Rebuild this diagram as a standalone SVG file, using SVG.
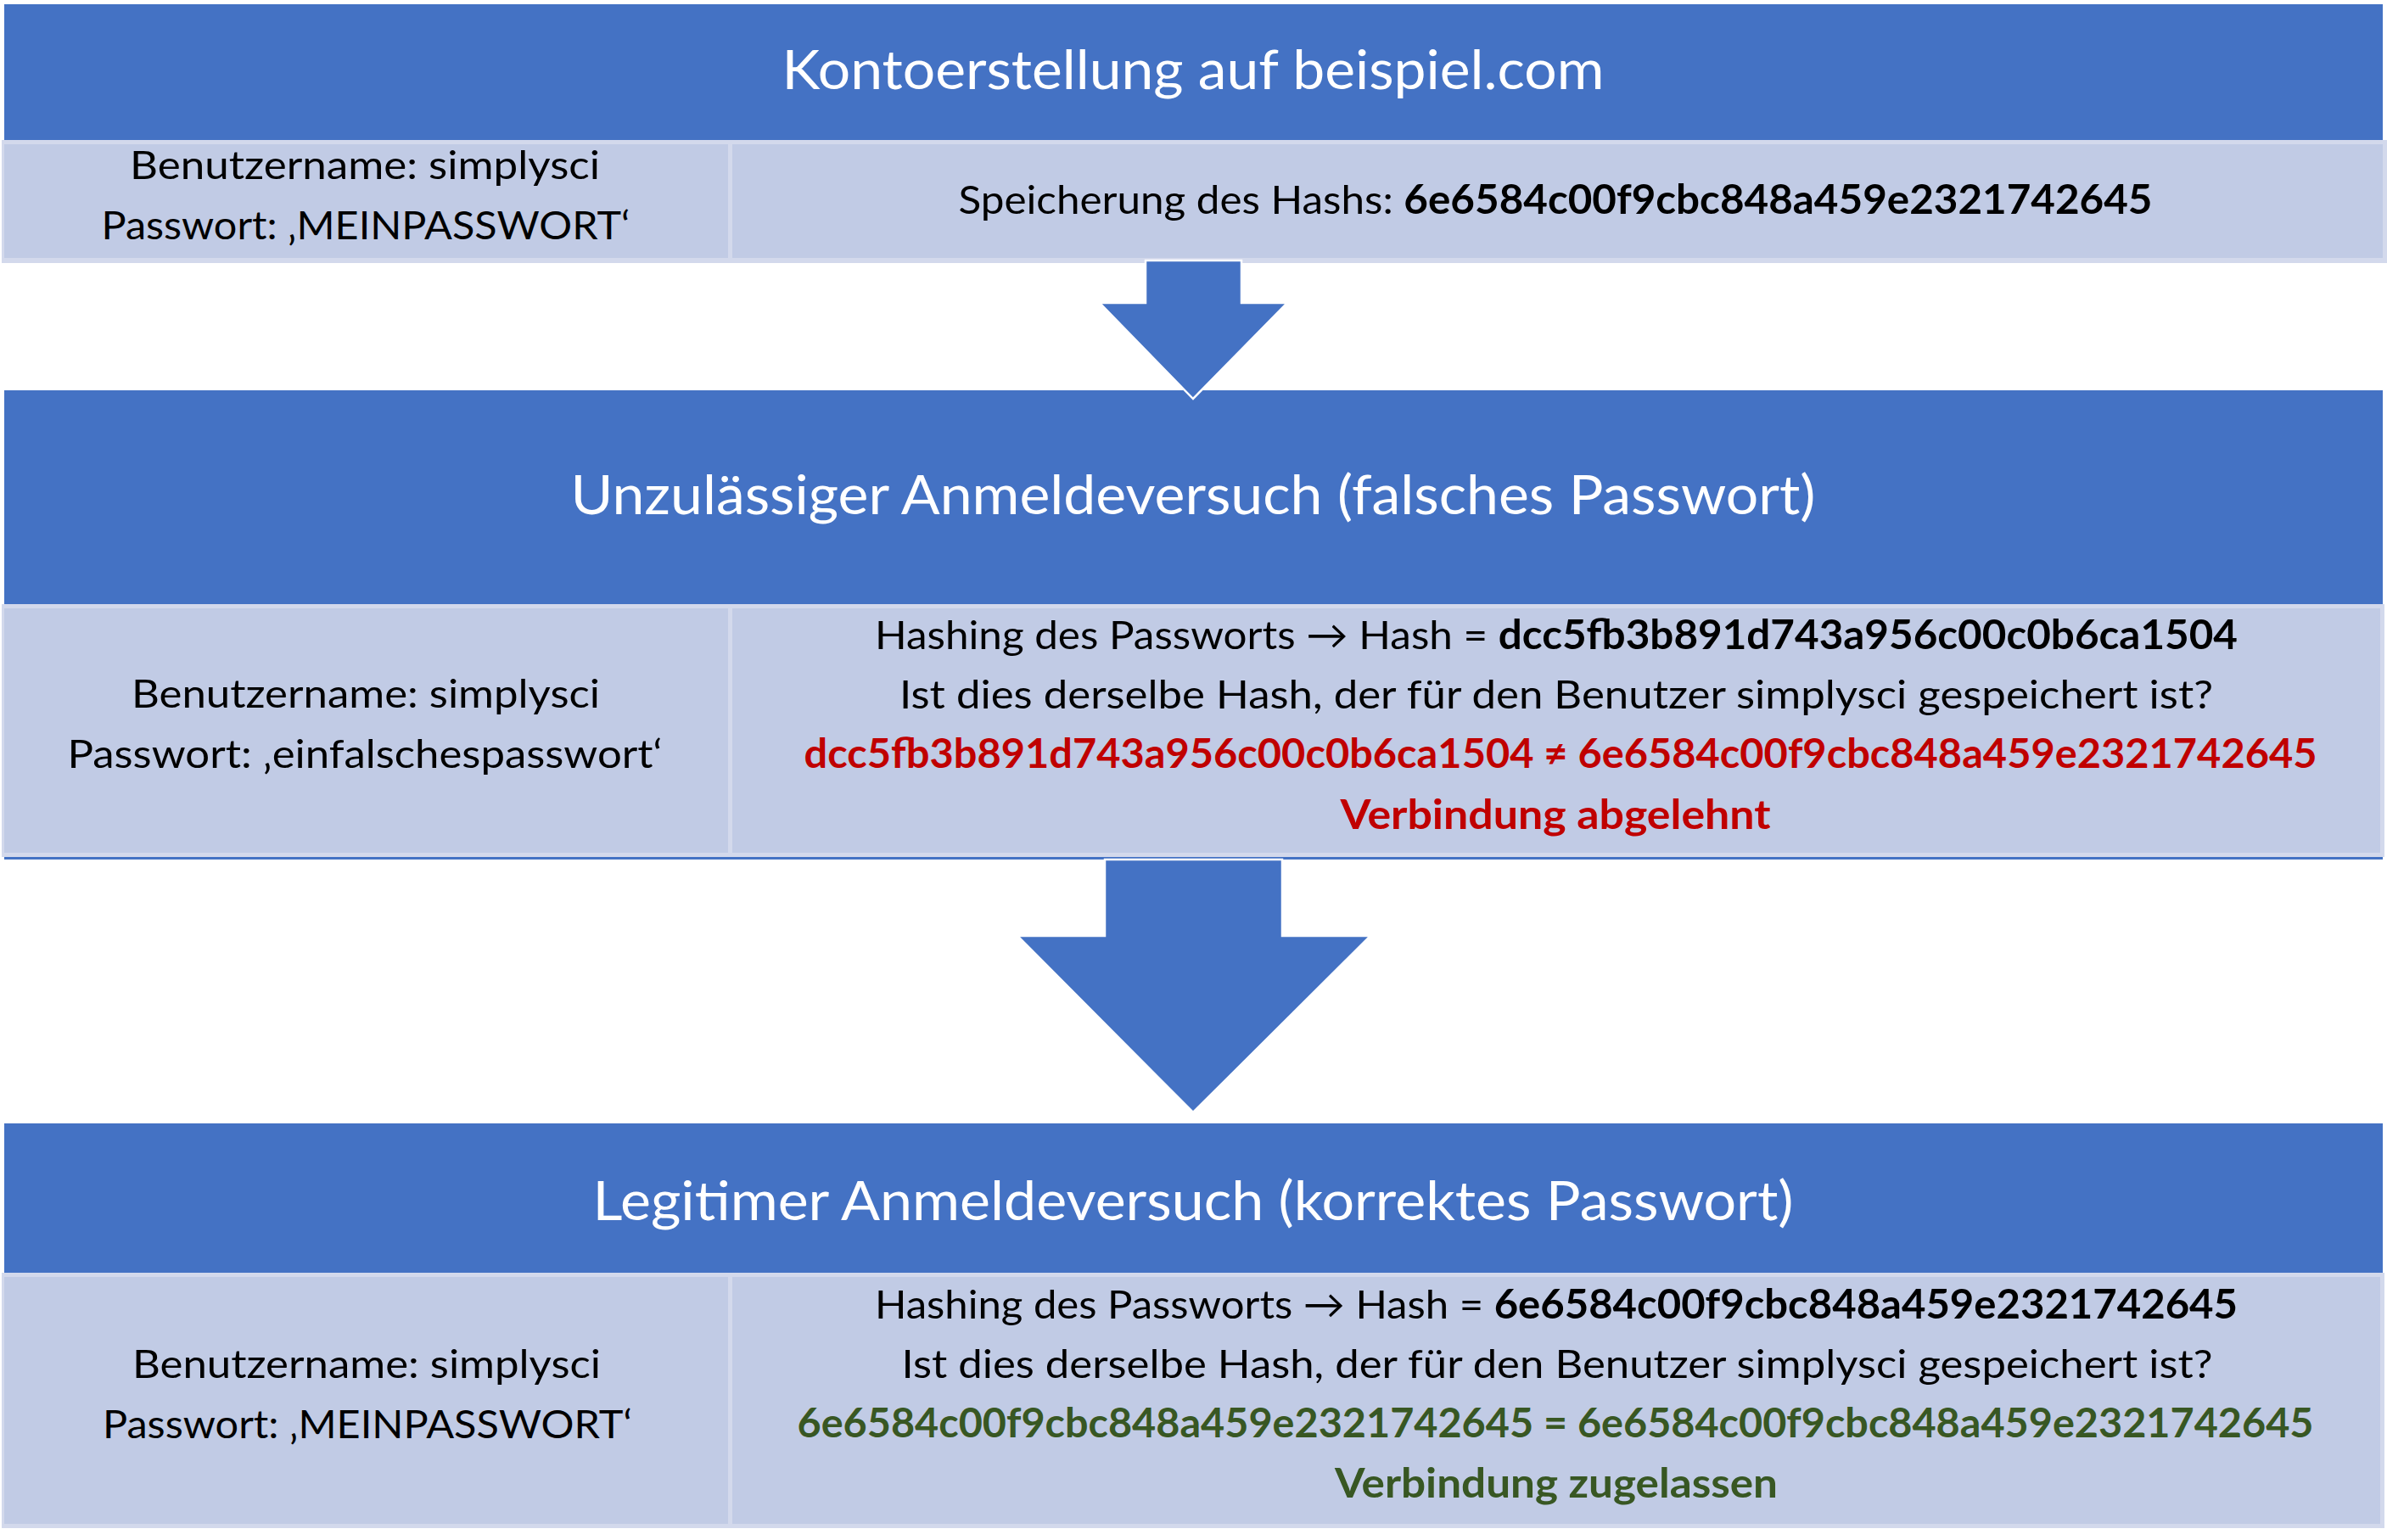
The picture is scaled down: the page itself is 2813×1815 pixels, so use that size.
<svg xmlns="http://www.w3.org/2000/svg" width="2813" height="1815" viewBox="0 0 2813 1815">
<style>
.hdr{fill:#4472C4}
.bd{fill:#D3D9EC}
.cell{fill:#C1CBE5}
.t{font-family:Lato,"Open Sans","Liberation Sans",sans-serif;text-anchor:middle}
.title{font-size:63px;fill:#FFFFFF}
.txt{font-size:47px;fill:#000000}
.b{font-weight:bold}
.red{fill:#C00000;font-weight:bold}
.green{fill:#385723;font-weight:bold}
.arrow{fill:#4472C4;stroke:#FFFFFF;stroke-width:2.5}
</style>
<rect width="2813" height="1815" fill="#FFFFFF"/>

<g id="block1">
  <rect class="hdr" x="5" y="5" width="2803" height="160"/>
  <text class="t title" x="1406" y="105" textLength="969" lengthAdjust="spacingAndGlyphs">Kontoerstellung auf beispiel.com</text>
  <rect class="bd" x="2" y="165" width="2811" height="145"/>
  <rect class="cell" x="5" y="170" width="853" height="134"/>
  <rect class="cell" x="863" y="170" width="1945" height="134"/>
  <text class="t txt" x="430" y="211" textLength="554" lengthAdjust="spacingAndGlyphs">Benutzername: simplysci</text>
  <text class="t txt" x="431" y="282" textLength="623" lengthAdjust="spacingAndGlyphs">Passwort: ‚MEINPASSWORT‘</text>
  <text class="t txt" x="1833" y="252" textLength="1407" lengthAdjust="spacingAndGlyphs">Speicherung des Hashs: <tspan class="b">6e6584c00f9cbc848a459e2321742645</tspan></text>
</g>

<g id="block2">
  <rect class="hdr" x="5" y="460" width="2803" height="252"/>
  <text class="t title" x="1406" y="606" textLength="1467" lengthAdjust="spacingAndGlyphs">Unzulässiger Anmeldeversuch (falsches Passwort)</text>
  <rect class="bd" x="2" y="712" width="2808" height="298"/>
  <rect class="cell" x="5" y="717" width="853" height="288"/>
  <rect class="cell" x="863" y="717" width="1942" height="288"/>
  <rect class="hdr" x="5" y="1010" width="2803" height="3"/>
  <text class="t txt" x="431" y="834" textLength="552" lengthAdjust="spacingAndGlyphs">Benutzername: simplysci</text>
  <text class="t txt" x="430" y="905" textLength="701" lengthAdjust="spacingAndGlyphs">Passwort: ‚einfalschespasswort‘</text>
  <text class="t txt" x="1834" y="765" textLength="1606" lengthAdjust="spacingAndGlyphs">Hashing des Passworts → Hash = <tspan class="b">dcc5fb3b891d743a956c00c0b6ca1504</tspan></text>
  <text class="t txt" x="1834" y="835" textLength="1548" lengthAdjust="spacingAndGlyphs">Ist dies derselbe Hash, der für den Benutzer simplysci gespeichert ist?</text>
  <text class="t txt red" x="1839" y="905" textLength="1783" lengthAdjust="spacingAndGlyphs">dcc5fb3b891d743a956c00c0b6ca1504 ≠ 6e6584c00f9cbc848a459e2321742645</text>
  <text class="t txt red" x="1833" y="977" textLength="507" lengthAdjust="spacingAndGlyphs">Verbindung abgelehnt</text>
</g>

<g id="block3">
  <rect class="hdr" x="5" y="1324" width="2803" height="176"/>
  <text class="t title" x="1406" y="1438" textLength="1415" lengthAdjust="spacingAndGlyphs">Legitimer Anmeldeversuch (korrektes Passwort)</text>
  <rect class="bd" x="2" y="1500" width="2808" height="301"/>
  <rect class="cell" x="5" y="1505" width="853" height="291"/>
  <rect class="cell" x="863" y="1505" width="1942" height="291"/>
  <text class="t txt" x="432" y="1624" textLength="552" lengthAdjust="spacingAndGlyphs">Benutzername: simplysci</text>
  <text class="t txt" x="433" y="1695" textLength="624" lengthAdjust="spacingAndGlyphs">Passwort: ‚MEINPASSWORT‘</text>
  <text class="t txt" x="1834" y="1554" textLength="1606" lengthAdjust="spacingAndGlyphs">Hashing des Passworts → Hash = <tspan class="b">6e6584c00f9cbc848a459e2321742645</tspan></text>
  <text class="t txt" x="1835" y="1624" textLength="1545" lengthAdjust="spacingAndGlyphs">Ist dies derselbe Hash, der für den Benutzer simplysci gespeichert ist?</text>
  <text class="t txt green" x="1833" y="1694" textLength="1787" lengthAdjust="spacingAndGlyphs">6e6584c00f9cbc848a459e2321742645 = 6e6584c00f9cbc848a459e2321742645</text>
  <text class="t txt green" x="1834" y="1765" textLength="522" lengthAdjust="spacingAndGlyphs">Verbindung zugelassen</text>
</g>

<g id="connectors">
  <polygon class="arrow" points="1350,307 1463,307 1463,357 1517,357 1406,470 1296,357 1350,357"/>
  <polygon class="arrow" points="1302,1013 1511,1013 1511,1103 1615,1103 1406,1311 1199,1103 1302,1103"/>
</g>
</svg>
